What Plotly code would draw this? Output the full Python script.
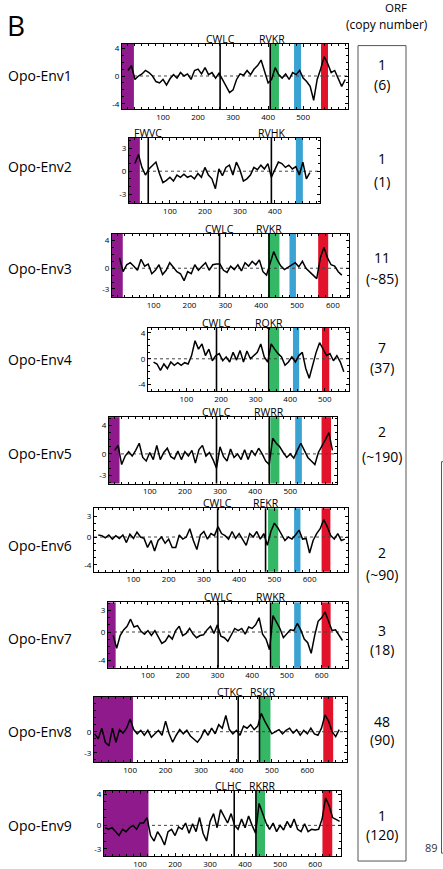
import plotly.graph_objects as go

W, H = 443, 869

# ---------------- data ----------------
env_names = ["Opo-Env1", "Opo-Env2", "Opo-Env3", "Opo-Env4", "Opo-Env5",
             "Opo-Env6", "Opo-Env7", "Opo-Env8", "Opo-Env9"]
orf_counts = ["1", "1", "11", "7", "2", "2", "3", "48", "1"]
copy_numbers = ["(6)", "(1)", "(~85)", "(37)", "(~190)", "(~90)", "(18)", "(90)", "(120)"]

hyd_start = [0, 0, 5, 5, 0, 0, 0, 0, 0]
hyd_step = 10

env1_hyd = [0.8, 1.5, -0.5, 0.0, 0.3, 0.8, 0.5, 0.0, -0.8, -1.0, -0.5, -1.3, -0.4, 0.2, -0.3,
            0.5, 0.0, 0.3, -0.5, 0.8, 1.0, 0.3, 1.2, 0.2, 0.5, -0.3, 0.4, -0.5, -1.5, -2.4,
            -2.0, -0.5, 0.3, 0.1, 0.8, 0.2, 1.0, 1.5, 2.3, 0.5, -1.0, -0.5, 1.2, 0.2, -0.3,
            0.3, -0.5, 0.5, 0.2, 0.8, -0.3, -0.8, -1.5, -3.5, -0.5, 1.0, 2.8, 1.8, 0.5, 0.8,
            -0.5, -1.5, -0.5]
env2_hyd = [1.0, 2.2, 0.5, -0.5, 0.3, 0.8, 1.2, -0.3, -1.5, -1.2, -0.8, -1.3, -0.5, -0.8, -0.4,
            -0.8, -0.6, -1.0, -0.3, -0.8, 0.5, -0.5, -1.0, -2.3, 0.3, -0.6, 0.5, 0.8, -0.5, 1.2,
            0.2, -1.3, -1.0, -0.5, 0.5, 0.2, 0.8, 0.3, 1.0, -0.8, 0.2, 1.2, 1.0, 0.5, 0.8,
            0.3, 0.6, -0.5, 1.2, -1.0, -0.2]
env3_hyd = [1.5, -0.5, 0.5, 0.8, 0.3, -0.3, 1.3, 0.3, 0.6, -0.8, -0.3, 0.5, -0.9, -0.3, 0.8,
            0.2, -0.5, -0.8, -1.8, -0.5, -0.8, 0.5, -0.3, 0.3, 0.8, -0.3, 0.5, 0.6, 0.6, -0.3,
            -0.6, 0.3, -0.2, 0.5, -0.4, 0.8, 0.3, 1.0, 0.5, 1.2, -0.5, -1.0, 0.8, 2.4, 1.2,
            0.3, -0.2, 0.1, 0.5, 0.8, 0.2, 1.0, 0.0, -0.5, -1.0, -1.5, 1.5, 3.0, 1.5, 0.5,
            0.3, -0.5, -1.0]
env4_hyd = [-0.5, -0.8, -1.8, -0.8, -1.5, -0.5, -1.0, -0.6, -1.0, -0.6, -0.8, 0.5, 2.8, 1.5,
            2.3, 0.5, 1.5, -0.3, 0.5, 0.8, -0.3, 0.3, -0.5, 1.0, -0.2, 1.3, -0.5, 1.2, 0.0,
            0.5, 1.0, 2.3, 0.3, -0.5, 2.3, 1.5, 0.8, 0.3, -1.0, -0.5, 0.3, -0.5, 0.5, 1.0,
            -1.5, -3.0, -1.0, 1.0, 2.5, 1.5, 0.5, 0.8, -0.3, 0.5, -0.5, -2.0]
env5_hyd = [0.5, 1.2, -1.5, -0.3, 0.3, -0.3, 0.5, 1.5, -0.5, -1.0, 0.2, -0.8, 1.2, -0.8, 0.2,
            0.8, -0.4, -0.7, 0.4, -0.8, 0.3, -0.3, 0.5, -1.3, 0.6, 1.2, -0.3, 0.2, -0.8, -2.0,
            1.0, -0.4, -1.0, 0.7, -0.5, 0.0, -0.8, 0.6, -0.8, 0.5, -0.2, 0.8, 0.0, -1.0, -1.5,
            2.2, 1.5, 1.0, 0.2, -0.5, 0.0, -0.6, 0.5, 1.5, 0.5, -0.5, -1.0, -1.5, 0.2, 1.0,
            2.0, 3.0, 0.5]
env6_hyd = [0.3, 0.2, -0.1, 0.3, -0.3, 0.2, -0.2, 0.3, -0.8, 0.4, -0.2, 0.7, 0.0, -0.2, -1.5,
            -0.5, -2.0, -0.5, 0.0, -0.9, -0.3, -1.5, -1.5, 0.3, -0.3, 0.0, 1.2, -0.5, -1.8, 0.3,
            0.8, -0.3, 0.5, 0.2, 1.5, 0.5, 0.2, -0.3, 0.8, -0.2, 0.5, -0.3, -1.2, 0.5, 0.0,
            0.8, -0.3, 0.5, -1.2, 0.8, 2.0, 1.3, 0.3, -0.5, 0.0, -0.3, 0.3, 1.0, -0.3, -0.2,
            -2.3, -0.5, 0.5, 1.2, 2.5, 1.5, 0.2, -0.3, 0.5, -0.5, -0.3]
env7_hyd = [-0.5, -2.3, -0.5, 0.3, 0.8, 1.8, 0.7, 0.9, 0.1, -0.3, 0.2, -0.5, 0.2, -0.7, -1.6,
            -1.3, -0.5, -1.0, 0.2, 0.8, -0.5, -0.2, 0.5, -0.3, -0.8, -0.5, -0.4, 0.3, 0.8, -0.2,
            1.0, -0.6, -0.8, -1.3, -0.3, 0.5, 0.2, 0.5, -0.3, 0.7, 0.5, 1.0, 2.0, -0.3, -1.0,
            -2.5, 2.3, 1.5, 0.5, -0.8, -0.3, 0.3, 0.2, 1.2, 0.3, -1.0, -1.5, -3.0, -0.5, 1.5,
            2.0, 2.8, 1.5, 0.2, 0.3, -0.5, -1.2]
env8_hyd = [-0.3, -1.0, 0.5, -1.5, -2.0, 0.5, -1.5, 0.3, -0.2, 0.5, 1.8, 0.3, -0.3, 0.2, -0.5,
            0.2, -0.8, -0.3, 0.2, -0.5, 1.5, -0.3, -1.5, -0.5, 0.3, -0.3, 0.2, -0.6, -1.0, -1.5,
            -0.8, 0.3, -0.5, 0.5, -0.3, 1.0, 0.5, 2.3, 0.3, -0.3, 0.2, -0.5, 0.8, 0.5, 1.0,
            0.3, 0.8, 2.6, 1.5, 0.5, -0.3, 0.0, 0.3, -0.3, 0.2, 0.5, -0.2, 0.3, -0.5, 0.2,
            -0.3, 0.5, -0.3, -0.5, 0.5, 2.4, 1.5, 0.0, -0.7, 0.3]
env9_hyd = [-0.3, -0.5, -0.3, -0.8, -1.3, -0.5, -0.8, -0.3, 0.0, -0.5, 0.3, 0.3, 1.0, -1.3,
            -2.0, -0.8, -1.5, -2.5, -0.8, -0.5, -1.3, -0.2, -0.5, 0.3, -1.0, 0.2, -0.8, 1.0,
            -1.0, -2.0, 0.5, 1.5, -0.3, 2.0, 1.2, 0.3, 1.5, 0.0, -0.5, 0.8, -0.3, 1.2, 0.0,
            -1.0, 2.8, 1.5, 0.3, -0.5, 0.3, -0.8, 0.0, -0.6, 0.5, -0.3, 0.8, -0.5, -0.8, 0.2,
            -0.8, -0.5, -0.6, -0.5, 0.8, 3.5, 2.5, 1.0, 0.8, 0.5]
hydropathy = [env1_hyd, env2_hyd, env3_hyd, env4_hyd, env5_hyd,
              env6_hyd, env7_hyd, env8_hyd, env9_hyd]

motif1_names = ["CWLC", "FWVC", "CWLC", "CWLC", "CWLC", "CWLC", "CWLC", "CTKC", "CLHC"]
motif1_pos = [263, 38, 284, 187, 290, 339, 302, 405, 369]
motif2_names = ["RVKR", "RVHK", "RVKR", "RQKR", "RWRR", "REKR", "RWKR", "RSKR", "RKRR"]
motif2_pos = [406, 390, 422, 338, 440, 475, 453, 465, 431]

purple_bands = [(-40, 17), (-40, 14), (-40, 14), None, (-40, 14), None, (-40, 7), (-40, 108), (-40, 124)]
green_bands = [(406, 431), None, (419, 451), (341, 368), (443, 469), (482, 511), (455, 480), (465, 496), (431, 457)]
blue_bands = [(474, 494), (460, 480), (479, 497), (408, 426), (514, 533), (556, 574), (521, 540), None, None]
red_bands = [(551, 571), None, (559, 587), (492, 513), (589, 616), (634, 659), (600, 626), (645, 673), (621, 649)]

x_tick_vals = [[100, 200, 300, 400, 500], [100, 200, 300, 400], [100, 200, 300, 400, 500, 600],
               [100, 200, 300, 400, 500], [100, 200, 300, 400, 500], [100, 200, 300, 400, 500, 600],
               [100, 200, 300, 400, 500, 600], [100, 200, 300, 400, 500, 600], [100, 200, 300, 400, 500, 600]]
y_tick_vals = [[4, 0, -4], [3, 0, -3], [4, 0, -3], [4, 0, -4], [4, 0, -3],
               [3, 0, -4], [3, 0, -4], [0, -3], [4, 0, -3]]

# ---------------- layout geometry (pixels) ----------------
# left, right, top, bottom, xmin, xmax, ymin, ymax
geom = [
    (122, 348, 41, 107, -17, 628, -4.76, 4.67),
    (129, 320, 136, 202, -17, 529, -4.2, 4.4),
    (112, 349, 233, 297, -16, 645, -4.2, 4.97),
    (148, 349, 328, 392, -11, 570, -5.04, 4.77),
    (109, 337, 418, 485, -16, 633, -4.17, 5.17),
    (94, 348, 510, 574, -12, 709, -5.0, 4.14),
    (108, 348, 605, 671, -15, 676, -5.04, 4.16),
    (94, 347, 700, 766, -2, 712, -4.3, 5.0),
    (104, 341, 795, 861, -3, 674, -3.92, 4.43),
]
label_y = [73, 165, 268, 360, 455, 548, 641, 735, 830]
count_y = [62, 157, 257, 348, 432, 555, 633, 725, 820]
copy_y = [82, 180, 278, 368, 458, 577, 653, 743, 839]
m1_shift = [0, 0, 0, 0, 0, 0, 0, -8, -6]
m2_shift = [2, 0, 0, 0, 0, 0, 0, 4, 6]

FONT = "Open Sans"
PURPLE, GREEN, BLUE, RED = "#8e1a8c", "#34b866", "#3aa3d4", "#e3122b"


def fx(px):
    return px / W


def fy(py):
    return 1 - py / H


fig = go.Figure()
shapes = []
annotations = []
layout_axes = {}

for i in range(9):
    n = i + 1
    sfx = "" if n == 1 else str(n)
    L, R, T, B, x0, x1, y0, y1 = geom[i]
    vals = hydropathy[i]
    xs = [hyd_start[i] + hyd_step * k for k in range(len(vals))]
    fig.add_trace(go.Scatter(x=xs, y=vals, mode="lines",
                             line=dict(color="black", width=1.5),
                             xaxis="x" + sfx, yaxis="y" + sfx,
                             showlegend=False, hoverinfo="skip"))
    layout_axes["xaxis" + sfx] = dict(
        domain=[fx(L), fx(R)], range=[x0, x1], anchor="y" + sfx,
        showline=True, linecolor="black", linewidth=1, mirror="allticks",
        ticks="inside", ticklen=3, tickcolor="black", tickwidth=1,
        tickmode="array", tickvals=x_tick_vals[i],
        ticktext=[str(v) for v in x_tick_vals[i]],
        tickfont=dict(family=FONT, size=8, color="black"),
        minor=dict(ticks="inside", ticklen=2, tickmode="linear", tick0=0, dtick=20,
                   tickcolor="black", showgrid=False),
        showgrid=False, zeroline=False, fixedrange=True)
    layout_axes["yaxis" + sfx] = dict(
        domain=[fy(B), fy(T)], range=[y0, y1], anchor="x" + sfx,
        showline=True, linecolor="black", linewidth=1, mirror="allticks",
        ticks="inside", ticklen=3, tickcolor="black", tickwidth=1,
        tickmode="array", tickvals=y_tick_vals[i],
        ticktext=[str(v) for v in y_tick_vals[i]],
        tickfont=dict(family=FONT, size=8, color="black"),
        minor=dict(ticks="inside", ticklen=2, tickmode="linear", tick0=0, dtick=1,
                   tickcolor="black", showgrid=False),
        showgrid=False, zeroline=False, fixedrange=True)

    xr, yr = "x" + sfx, "y" + sfx
    for band, col in ((purple_bands[i], PURPLE), (green_bands[i], GREEN),
                      (blue_bands[i], BLUE), (red_bands[i], RED)):
        if band is None:
            continue
        shapes.append(dict(type="rect", xref=xr, yref=yr + " domain",
                           x0=max(band[0], x0), x1=band[1], y0=0, y1=1,
                           fillcolor=col, line=dict(width=0), layer="below"))
    # dotted zero line
    shapes.append(dict(type="line", xref=xr + " domain", yref=yr, x0=0, x1=1, y0=0, y1=0,
                       line=dict(color="#444", width=1, dash="dot"), layer="below"))
    # motif lines
    for pos in (motif1_pos[i], motif2_pos[i]):
        shapes.append(dict(type="line", xref=xr, yref=yr + " domain", x0=pos, x1=pos,
                           y0=0, y1=1, line=dict(color="black", width=1.6)))
    annotations.append(dict(xref=xr, yref=yr + " domain", x=motif1_pos[i], y=1,
                            text=motif1_names[i], showarrow=False, xanchor="center",
                            yanchor="bottom", xshift=m1_shift[i], yshift=-4,
                            font=dict(family=FONT, size=10.5, color="black")))
    annotations.append(dict(xref=xr, yref=yr + " domain", x=motif2_pos[i], y=1,
                            text=motif2_names[i], showarrow=False, xanchor="center",
                            yanchor="bottom", xshift=m2_shift[i], yshift=-4,
                            font=dict(family=FONT, size=10.5, color="black")))
    # names
    annotations.append(dict(xref="paper", yref="paper", x=fx(6), y=fy(label_y[i]),
                            text=env_names[i], showarrow=False, xanchor="left",
                            yanchor="middle", font=dict(family=FONT, size=14, color="black")))
    annotations.append(dict(xref="paper", yref="paper", x=fx(382), y=fy(count_y[i]),
                            text=orf_counts[i], showarrow=False, xanchor="center",
                            yanchor="middle", font=dict(family=FONT, size=14, color="black")))
    annotations.append(dict(xref="paper", yref="paper", x=fx(382), y=fy(copy_y[i]),
                            text=copy_numbers[i], showarrow=False, xanchor="center",
                            yanchor="middle", font=dict(family=FONT, size=14, color="black")))

# column box and right box
shapes.append(dict(type="rect", xref="paper", yref="paper", x0=fx(358), x1=fx(406),
                   y0=fy(866), y1=fy(43), line=dict(color="#555", width=1)))
shapes.append(dict(type="rect", xref="paper", yref="paper", x0=fx(441.5), x1=fx(470),
                   y0=fy(858), y1=fy(463), line=dict(color="#555", width=1)))

annotations.append(dict(xref="paper", yref="paper", x=fx(5), y=fy(22), text="B",
                        showarrow=False, xanchor="left", yanchor="middle",
                        font=dict(family=FONT, size=28, color="black")))
annotations.append(dict(xref="paper", yref="paper", x=fx(396), y=fy(5), text="ORF",
                        showarrow=False, xanchor="center", yanchor="middle",
                        font=dict(family=FONT, size=11.5, color="black")))
annotations.append(dict(xref="paper", yref="paper", x=fx(387), y=fy(22), text="(copy number)",
                        showarrow=False, xanchor="center", yanchor="middle",
                        font=dict(family=FONT, size=12, color="black")))
annotations.append(dict(xref="paper", yref="paper", x=fx(431), y=fy(852), text="89",
                        showarrow=False, xanchor="center", yanchor="middle",
                        font=dict(family=FONT, size=11, color="#333")))

fig.update_layout(width=W, height=H, margin=dict(l=0, r=0, t=0, b=0),
                  paper_bgcolor="white", plot_bgcolor="white",
                  shapes=shapes, annotations=annotations, **layout_axes)

fig.write_html("out.html", config={"displayModeBar": False},
               post_script="document.body.style.margin='0px';document.body.style.padding='0px';")
